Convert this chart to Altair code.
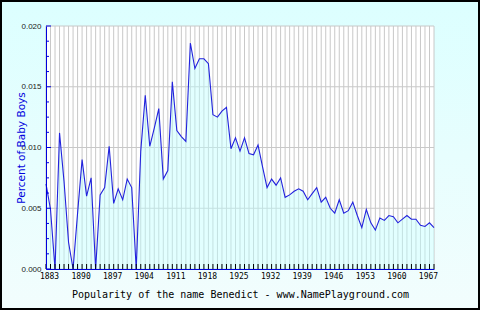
import altair as alt
import pandas as pd

# ---- data ----
years = list(range(1883, 1970))
values = [
    0.0070, 0.0049, 0.0000, 0.0112, 0.0072, 0.0022, 0.0000, 0.0046, 0.0090, 0.0060,  # 1883-1892
    0.0075, 0.0000, 0.0061, 0.0067, 0.0101, 0.0054, 0.0066, 0.0057, 0.0074, 0.0067,  # 1893-1902
    0.0000, 0.0097, 0.0143, 0.0101, 0.0116, 0.0132, 0.0074, 0.0081, 0.0154, 0.0114,  # 1903-1912
    0.0109, 0.0105, 0.0186, 0.0165, 0.0173, 0.0173, 0.0169, 0.0127, 0.0125, 0.0130,  # 1913-1922
    0.0133, 0.0099, 0.0108, 0.0097, 0.0108, 0.0095, 0.0094, 0.0102, 0.0084, 0.0067,  # 1923-1932
    0.0074, 0.0069, 0.0075, 0.0059, 0.0061, 0.0064, 0.0066, 0.0064, 0.0057, 0.0062,  # 1933-1942
    0.0067, 0.0055, 0.0059, 0.0050, 0.0046, 0.0057, 0.0046, 0.0048, 0.0055, 0.0044,  # 1943-1952
    0.0034, 0.0049, 0.0038, 0.0032, 0.0042, 0.0040, 0.0044, 0.0043, 0.0038, 0.0041,  # 1953-1962
    0.0044, 0.0041, 0.0041, 0.0036, 0.0035, 0.0038, 0.0034,                          # 1963-1969
]
label_years = [1883, 1890, 1897, 1904, 1911, 1918, 1925, 1932, 1939, 1946, 1953, 1960, 1967]
y_major = [0.0, 0.005, 0.010, 0.015, 0.020]
y_minor = [0.00125, 0.0025, 0.00375, 0.00625, 0.0075, 0.00875,
           0.01125, 0.0125, 0.01375, 0.01625, 0.0175, 0.01875]

title_x = "Popularity of the name Benedict - www.NamePlayground.com"
title_y = "Percent of Baby Boys"

df = pd.DataFrame({"year": years, "value": values})
df_major = pd.DataFrame({"v": y_major})
df_minor = pd.DataFrame({"v": y_minor})

W, H = 388, 243
BLUE = "#0000dd"

x_scale = alt.Scale(domain=[1883, 1969], nice=False, zero=False)
y_scale = alt.Scale(domain=[0, 0.02], nice=False, zero=True)

x_axis = alt.Axis(
    values=label_years, format="d", grid=False, ticks=False,
    labelFont="DejaVu Sans Mono", labelFontSize=8, labelColor="#000000",
    labelOffset=3, labelPadding=3, labelFlush=False, labelOverlap=False,
    domainColor=BLUE, domainWidth=1,
    title=title_x, titleFont="DejaVu Sans Mono", titleFontSize=10,
    titleFontWeight="normal", titleColor="#000000", titleY=25,
    titleBaseline="middle", zindex=1,
)
y_axis = alt.Axis(
    values=y_major, format=".3f", grid=False, ticks=False,
    labelFont="Liberation Sans", labelFontSize=8, labelColor="#222222",
    labelPadding=5, labelFlush=False,
    domainColor=BLUE, domainWidth=1,
    title=title_y, titleFont="DejaVu Sans", titleFontSize=10.5,
    titleFontWeight="normal", titleColor=BLUE, titleX=-25, titleY=H / 2,
    titleAngle=270, titleAlign="center", titleBaseline="middle", zindex=1,
)

X = alt.X("year:Q", scale=x_scale, axis=x_axis)
Y = alt.Y("value:Q", scale=y_scale, axis=y_axis)

one = alt.Data(values=[{}])

bg = alt.Chart(one).mark_rect(
    fill=alt.Gradient(
        gradient="linear",
        stops=[alt.GradientStop(color="#dcffff", offset=0),
               alt.GradientStop(color="#f2fdfd", offset=1)],
        x1=0, x2=0, y1=0, y2=1,
    ),
    stroke="#000000", strokeWidth=2,
).encode(x=alt.value(-45), x2=alt.value(W + 45), y=alt.value(-25), y2=alt.value(H + 40))

plot_bg = alt.Chart(one).mark_rect(fill="#ffffff").encode(
    x=alt.value(0), x2=alt.value(W), y=alt.value(0), y2=alt.value(H)
)

vgrid = alt.Chart(df).mark_rule(color="#c8c8c8", strokeWidth=1).encode(
    x=X, y=alt.value(0), y2=alt.value(H)
)
hgrid = alt.Chart(df_major).mark_rule(color="#c8c8c8", strokeWidth=1).encode(
    y=alt.Y("v:Q", scale=y_scale, axis=y_axis), x=alt.value(0), x2=alt.value(W)
)

area = alt.Chart(df).mark_area(color="#bfffff", opacity=0.45).encode(x=X, y=Y)
line = alt.Chart(df).mark_line(color="#2222dd", strokeWidth=1.1).encode(x=X, y=Y)

xticks = alt.Chart(df).mark_rule(color="#000000", strokeWidth=1).encode(
    x=X, y=alt.value(H - 5), y2=alt.value(H)
)
yminor = alt.Chart(df_minor).mark_rule(color=BLUE, strokeWidth=1).encode(
    y=alt.Y("v:Q", scale=y_scale, axis=y_axis), x=alt.value(0), x2=alt.value(3)
)
ymajor = alt.Chart(df_major).mark_rule(color=BLUE, strokeWidth=1).encode(
    y=alt.Y("v:Q", scale=y_scale, axis=y_axis), x=alt.value(0), x2=alt.value(5)
)

chart = alt.layer(
    bg, plot_bg, vgrid, hgrid, area, line, xticks, yminor, ymajor
).properties(
    width=W, height=H,
    autosize=alt.AutoSizeParams(type="none"),
    padding={"left": 46, "top": 26, "right": 46, "bottom": 41},
    background="#ffffff",
).configure_view(stroke="transparent")

chart.save("out.html", embed_options={"renderer": "svg", "actions": False})
